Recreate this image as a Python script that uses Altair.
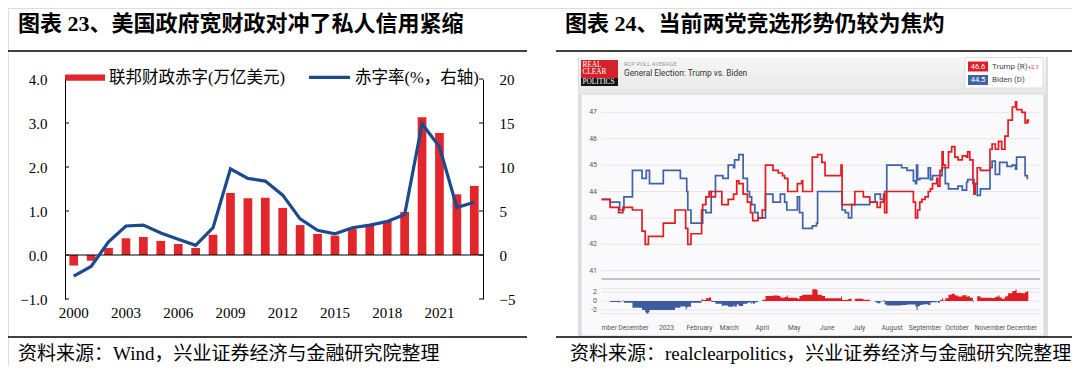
import altair as alt
import pandas as pd

W, H = 1064, 357
OX, OY = 8, 8


def px(x):
    return x - OX


def py(y):
    return y - OY


SERIF = "Liberation Serif"
CJK = "Liberation Serif, Noto Sans CJK SC"
SANS = "Roboto"

RED_BAR = "#E3262B"
BLUE_LINE = "#1A4B8E"
RCP_RED = "#E31B23"
RCP_BLUE = "#3F63A8"

# ---------------- Left panel data ----------------
years = [2000, 2001, 2002, 2003, 2004, 2005, 2006, 2007, 2008, 2009, 2010, 2011,
         2012, 2013, 2014, 2015, 2016, 2017, 2018, 2019, 2020, 2021, 2022, 2023]
deficit = [-0.24, -0.13, 0.16, 0.38, 0.41, 0.32, 0.25, 0.16, 0.46, 1.41, 1.29, 1.30,
           1.07, 0.68, 0.48, 0.44, 0.59, 0.67, 0.78, 0.98, 3.13, 2.77, 1.38, 1.57]
deficit_rate = [-2.4, -1.3, 1.5, 3.3, 3.4, 2.5, 1.8, 1.1, 3.1, 9.8, 8.7, 8.4,
                6.8, 4.1, 2.8, 2.4, 3.1, 3.4, 3.8, 4.6, 14.9, 12.3, 5.4, 6.0]
left_ticks = [-1, 0, 1, 2, 3, 4]
right_ticks = [-5, 0, 5, 10, 15, 20]
year_labels = ["2000", "2003", "2006", "2009", "2012", "2015", "2018", "2021"]

# ---------------- Right panel data ----------------
rcp_dates = [
    "2022-11-01", "2022-11-09", "2022-11-17", "2022-11-18", "2022-11-21", "2022-11-22", "2022-11-30",
    "2022-12-09", "2022-12-12", "2022-12-13", "2022-12-15", "2022-12-16", "2022-12-29",
    "2023-01-09", "2023-01-14", "2023-01-19", "2023-01-20", "2023-01-21", "2023-01-24",
    "2023-02-03", "2023-02-04", "2023-02-07", "2023-02-10", "2023-02-12", "2023-02-16", "2023-02-22", "2023-02-23", "2023-02-28",
    "2023-03-05", "2023-03-06", "2023-03-08", "2023-03-10", "2023-03-14", "2023-03-18", "2023-03-20", "2023-03-21", "2023-03-22", "2023-03-23", "2023-03-25", "2023-03-28",
    "2023-04-01", "2023-04-04", "2023-04-11", "2023-04-16", "2023-04-18", "2023-04-20", "2023-04-22", "2023-04-24", "2023-04-25",
    "2023-05-04", "2023-05-06", "2023-05-08", "2023-05-09", "2023-05-18", "2023-05-22", "2023-05-23", "2023-05-27", "2023-05-30",
    "2023-06-14", "2023-06-15", "2023-06-18", "2023-06-21", "2023-06-24", "2023-06-27",
    "2023-07-05", "2023-07-11", "2023-07-16", "2023-07-18", "2023-07-21", "2023-07-24", "2023-07-25", "2023-07-27",
    "2023-08-10", "2023-08-15", "2023-08-21", "2023-08-23", "2023-08-24", "2023-08-25", "2023-08-27", "2023-08-29",
    "2023-09-01", "2023-09-04", "2023-09-06", "2023-09-08", "2023-09-12", "2023-09-13", "2023-09-15", "2023-09-17", "2023-09-18", "2023-09-20", "2023-09-23", "2023-09-26", "2023-09-29",
    "2023-10-02", "2023-10-06", "2023-10-10", "2023-10-11", "2023-10-13", "2023-10-16", "2023-10-17", "2023-10-18", "2023-10-20", "2023-10-23",
    "2023-11-01", "2023-11-03", "2023-11-06", "2023-11-09", "2023-11-10", "2023-11-12", "2023-11-15", "2023-11-17", "2023-11-18", "2023-11-22", "2023-11-25", "2023-11-26",
    "2023-12-01", "2023-12-04", "2023-12-06", "2023-12-07",
]
trump = [
    43.7, 43.4, 43.2, 43.2, 43.4, 43.4, 43.3,
    42.5, 42.0, 42.0, 42.3, 42.3, 42.8,
    43.3, 43.3, 42.6, 42.6, 42.0, 42.4,
    43.3, 43.5, 43.8, 44.0, 43.8, 44.0, 43.5, 43.5, 43.7,
    43.9, 43.9, 44.4, 44.3, 43.9, 43.6, 43.6, 43.2, 43.2, 42.9, 42.9, 43.0,
    43.3, 45.0, 44.8, 44.7, 44.7, 44.6, 44.5, 44.5, 44.0,
    44.3, 44.3, 44.4, 44.0, 45.3, 45.3, 45.4, 45.1, 44.6,
    45.0, 43.5, 43.5, 43.5, 43.5, 44.0,
    43.8, 43.6, 43.6, 43.4, 43.6, 43.9, 43.2, 44.0,
    44.0, 44.0, 43.6, 43.0, 43.0, 43.3, 43.6, 43.7,
    43.8, 44.0, 44.1, 44.3, 44.5, 44.2, 44.8, 45.5, 45.0, 44.9, 45.5, 45.7, 45.3,
    45.2, 45.35, 45.3, 45.5, 45.2, 44.3, 43.9, 44.3, 44.9, 44.8,
    45.6, 45.8, 45.6, 45.9, 45.9, 45.6, 46.1, 46.1, 46.7, 47.2, 47.4, 47.1,
    47.0, 46.6, 46.7, 46.6,
]
biden = [
    43.7, 43.6, 43.6, 43.3, 43.3, 43.8, 44.8,
    44.5, 44.5, 44.8, 44.8, 44.3, 44.8,
    44.8, 44.5, 44.5, 44.0, 43.3, 42.8,
    42.8, 43.3, 43.2, 43.2, 44.0, 44.6, 44.6, 44.5, 45.0,
    44.9, 45.2, 45.2, 45.4, 44.5, 44.0, 43.8, 43.8, 43.5, 43.5, 43.2, 43.0,
    43.0, 43.9, 43.6, 43.6, 43.9, 43.9, 43.6, 43.3, 43.3,
    43.8, 43.2, 43.2, 42.6, 42.7, 42.8, 44.0, 44.0, 44.0,
    44.0, 43.3, 43.2, 43.0, 43.5, 43.5,
    43.5, 43.6, 43.9, 43.9, 43.7, 43.7, 44.0, 45.0,
    44.9, 44.8, 44.4, 44.3, 45.0, 44.45, 44.5, 44.5,
    44.5, 44.9, 44.45, 44.6, 44.6, 44.6, 44.6, 44.9, 44.9, 44.3, 44.1, 44.1, 44.1,
    44.2, 44.05, 44.35, 44.45, 44.45, 44.45, 43.9, 44.3, 43.85, 44.1,
    44.9, 45.15, 44.65, 44.65, 45.1, 45.1, 45.1, 44.95, 44.95, 45.0, 44.85, 45.3,
    45.3, 44.6, 44.5, 44.5,
]
rcp_grid = [41, 42, 43, 44, 45, 46, 47]
rcp_grid_labels = ["41", "42", "43", "44", "45", "46", "47"]
spread_grid = [2.8, 2, 0, -2, -2.8]
spread_ticks = [2, 0, -2]
spread_tick_labels = ["2", "0", "-2"]
month_ticks = ["2022-12-01", "2023-01-01", "2023-02-01", "2023-03-01", "2023-04-01", "2023-05-01",
               "2023-06-01", "2023-07-01", "2023-08-01", "2023-09-01", "2023-10-01", "2023-11-01",
               "2023-12-01"]
month_labels = ["December", "2023", "February", "March", "April", "May", "June", "July",
                "August", "September", "October", "November", "December"]

ONE = alt.Data(values=[{"k": 0}])


def deco_rect(x1, x2, y1, y2, **kw):
    return alt.Chart(ONE).mark_rect(**kw).encode(
        x=alt.value(px(x1)), x2=alt.value(px(x2)), y=alt.value(py(y1)), y2=alt.value(py(y2)))


def deco_hline(x1, x2, y, color="black", width=1.0):
    return alt.Chart(ONE).mark_rule(color=color, strokeWidth=width).encode(
        x=alt.value(px(x1)), x2=alt.value(px(x2)), y=alt.value(py(y)))


def deco_text(x, y, s, size, color="black", font=CJK, weight="normal", align="left"):
    return alt.Chart(ONE).mark_text(text=s, fontSize=size, color=color, font=font,
                                    fontWeight=weight, align=align, baseline="middle").encode(
        x=alt.value(px(x)), y=alt.value(py(y)))


# ---------------- Left panel ----------------
L_LEFT, L_RIGHT = px(65), px(483)
L_TOP, L_BOT = py(79), py(299)

left_df = pd.DataFrame({"year": [str(y) for y in years], "deficit": deficit, "rate": deficit_rate})
x_left = alt.Scale(domain=[str(y) for y in years], range=[L_LEFT, L_RIGHT],
                   paddingInner=0.5, paddingOuter=0.25)
y_bar = alt.Scale(domain=[-1, 4], range=[L_BOT, L_TOP], nice=False, zero=False)
y_rate = alt.Scale(domain=[-5, 20], range=[L_BOT, L_TOP], nice=False, zero=False)

bars = alt.Chart(left_df).mark_bar(color=RED_BAR).encode(
    x=alt.X("year:N", scale=x_left, axis=None),
    y=alt.Y("deficit:Q", scale=y_bar,
            axis=alt.Axis(orient="left", offset=-L_LEFT, values=left_ticks, format=".1f",
                          ticks=False, tickSize=0, domain=True, domainColor="black",
                          domainWidth=1, labelPadding=18, labelFont=SERIF, labelFontSize=15,
                          labelColor="black", grid=False, title=None, zindex=1)),
    y2=alt.datum(0),
)

year_text = alt.Chart(pd.DataFrame({"year": year_labels})).mark_text(
    font=SERIF, fontSize=15, color="black", baseline="middle", align="center"
).encode(
    x=alt.X("year:N", scale=x_left, axis=None),
    y=alt.value(py(313)),
    text="year:N",
)

zero_rule = alt.Chart(alt.Data(values=[{"v": 0}])).mark_rule(color="black", strokeWidth=1.2).encode(
    y=alt.Y("v:Q", scale=y_bar, axis=None),
    x=alt.value(L_LEFT), x2=alt.value(L_RIGHT),
)
tick_df = pd.DataFrame({"t": left_ticks})
ticks_l = alt.Chart(tick_df).mark_rule(color="black", strokeWidth=1).encode(
    y=alt.Y("t:Q", scale=y_bar, axis=None), x=alt.value(L_LEFT), x2=alt.value(L_LEFT + 4))
ticks_r = alt.Chart(tick_df).mark_rule(color="black", strokeWidth=1).encode(
    y=alt.Y("t:Q", scale=y_bar, axis=None), x=alt.value(L_RIGHT - 4), x2=alt.value(L_RIGHT))

rate_line = alt.Chart(left_df).mark_line(color=BLUE_LINE, strokeWidth=3.2).encode(
    x=alt.X("year:N", scale=x_left, axis=None),
    y=alt.Y("rate:Q", scale=y_rate,
            axis=alt.Axis(orient="right", offset=L_RIGHT - W, values=right_ticks, ticks=False,
                          tickSize=0, domain=True, domainColor="black", domainWidth=1,
                          labelPadding=16, labelFont=SERIF, labelFontSize=15,
                          labelColor="black", grid=False, title=None, zindex=1)),
)

left = alt.layer(bars, zero_rule, ticks_l, ticks_r, rate_line, year_text).resolve_scale(y="independent")

# ---------------- Right panel ----------------
R_LEFT, R_RIGHT = px(601.6), px(1040)
rcp_df = pd.DataFrame({"date": rcp_dates, "trump": trump, "biden": biden})
x_r = alt.Scale(type="utc",
                domain=[alt.DateTime(year=2022, month=11, date=1, utc=True),
                        alt.DateTime(year=2023, month=12, date=18, utc=True)],
                range=[R_LEFT, R_RIGHT])
y_lines = alt.Scale(domain=[41, 47], range=[py(270.7), py(112.3)], nice=False, zero=False)
y_spread = alt.Scale(domain=[-2.8, 2.8], range=[py(313.6), py(288.4)], nice=False, zero=False)

grid_lines = alt.Chart(pd.DataFrame({"g": rcp_grid})).mark_rule(color="#e6e6ea", strokeWidth=1).encode(
    y=alt.Y("g:Q", scale=y_lines, axis=None),
    x=alt.value(R_LEFT), x2=alt.value(R_RIGHT),
)
grid_text = alt.Chart(pd.DataFrame({"g": rcp_grid, "lab": rcp_grid_labels})).mark_text(
    font=SANS, fontSize=7, color="#555555", align="right", baseline="middle"
).encode(
    y=alt.Y("g:Q", scale=y_lines, axis=None),
    x=alt.value(px(597)),
    text="lab:N",
)
trump_line = alt.Chart(rcp_df).mark_line(color=RCP_RED, strokeWidth=1.7, interpolate="step-after").encode(
    x=alt.X("date:T", scale=x_r, axis=None),
    y=alt.Y("trump:Q", scale=y_lines, axis=None),
)
biden_line = alt.Chart(rcp_df).mark_line(color=RCP_BLUE, strokeWidth=1.7, interpolate="step-after").encode(
    x=alt.X("date:T", scale=x_r, axis=None),
    y=alt.Y("biden:Q", scale=y_lines, axis=None),
)
month_text = alt.Chart(pd.DataFrame({"d": month_ticks, "lab": month_labels})).mark_text(
    font=SANS, fontSize=6.7, color="#555555", align="center", baseline="middle"
).encode(
    x=alt.X("d:T", scale=x_r, axis=None),
    y=alt.value(py(328)),
    text="lab:N",
)
right_lines = alt.layer(grid_lines, grid_text, biden_line, trump_line, month_text)

spread_grid_chart = alt.Chart(pd.DataFrame({"g": spread_grid})).mark_rule(color="#e6e6ea", strokeWidth=1).encode(
    y=alt.Y("g:Q", scale=y_spread, axis=None),
    x=alt.value(R_LEFT), x2=alt.value(R_RIGHT),
)
spread_text = alt.Chart(pd.DataFrame({"g": spread_ticks, "lab": spread_tick_labels})).mark_text(
    font=SANS, fontSize=7, color="#555555", align="right", baseline="middle"
).encode(
    y=alt.Y("g:Q", scale=y_spread, axis=None),
    x=alt.value(px(597)),
    text="lab:N",
)
spread_base = alt.Chart(rcp_df).transform_calculate(
    pos="max(datum.trump - datum.biden, 0)",
    neg="min(datum.trump - datum.biden, 0)",
)
pos_area = spread_base.mark_area(color=RCP_RED, interpolate="step-after").encode(
    x=alt.X("date:T", scale=x_r, axis=None),
    y=alt.Y("pos:Q", scale=y_spread, axis=None),
    y2=alt.datum(0),
)
neg_area = spread_base.mark_area(color="#3B5C9E", interpolate="step-after").encode(
    x=alt.X("date:T", scale=x_r, axis=None),
    y=alt.Y("neg:Q", scale=y_spread, axis=None),
    y2=alt.datum(0),
)
right_spread = alt.layer(spread_grid_chart, spread_text, pos_area, neg_area)

right = alt.layer(right_lines, right_spread).resolve_scale(y="independent")

# ---------------- Decorations ----------------
header_grad = alt.Gradient(gradient="linear", x1=0, x2=0, y1=0, y2=1,
                           stops=[alt.GradientStop(color="#f7f7f7", offset=0),
                                  alt.GradientStop(color="#e7e7e7", offset=1)])
backgrounds = [
    deco_rect(578, 1048, 57, 337, color="#dedede"),
    deco_rect(579, 1046, 57, 94, color=header_grad),
    deco_rect(581, 1044, 94, 336, color="#fafafc", stroke="#d8d8d8", strokeWidth=1),
]

decor = [
    # titles
    deco_text(18, 24, "图表 23、美国政府宽财政对冲了私人信用紧缩", 22, weight="bold"),
    deco_text(565, 24, "图表 24、当前两党竞选形势仍较为焦灼", 22, weight="bold"),
    deco_hline(5, 527, 51, width=1.5),
    deco_hline(556, 1076, 51, width=1.5),
    deco_hline(5, 527, 337, width=1.5),
    deco_hline(556, 1076, 337, width=1.5),
    deco_text(18, 354, "资料来源：Wind，兴业证券经济与金融研究院整理", 19),
    deco_text(570, 354, "资料来源：realclearpolitics，兴业证券经济与金融研究院整理", 19),
    # left legend
    deco_rect(65, 105, 74.6, 80.8, color=RED_BAR),
    deco_text(109, 77.5, "联邦财政赤字(万亿美元)", 16.5),
    deco_hline(309, 350, 77.3, color=BLUE_LINE, width=3.2),
    deco_text(355, 77.5, "赤字率(%，右轴)", 16.5),
    # right panel separator and clipped month label
    deco_hline(601.6, 1040, 279, color="#b0b0b0", width=1.5),
    deco_text(601.5, 328, "mber", 6.7, color="#555555", font=SANS),
    # RCP logo
    deco_rect(581, 618, 60, 78, color="#D2232A"),
    deco_rect(581, 618, 78, 86, color="#111111"),
    deco_text(582.5, 65, "REAL", 7.3, color="white", font=SERIF),
    deco_text(582.5, 72, "CLEAR", 7.3, color="white", font=SERIF),
    deco_text(582.5, 82, "POLITICS", 7.3, color="white", font=SERIF),
    deco_text(624, 63.5, "RCP POLL AVERAGE", 5.8, color="#999999", font=SANS),
    deco_text(624, 74, "General Election: Trump vs. Biden", 8.3, color="#333333", font=SANS),
    # RCP legend
    deco_rect(965, 1043, 57.5, 88, color="white", stroke="#dddddd", strokeWidth=1),
    deco_rect(968, 988, 61.5, 71.5, color=RCP_RED),
    deco_text(978, 66.7, "46.6", 7.5, color="white", font=SANS, align="center"),
    deco_text(992, 66.7, "Trump (R)", 8, color="#444444", font=SANS),
    deco_text(1028, 66.7, "+2.1", 5.5, color=RCP_RED, font=SANS),
    deco_rect(968, 988, 75, 85, color=RCP_BLUE),
    deco_text(978, 80.2, "44.5", 7.5, color="white", font=SANS, align="center"),
    deco_text(992, 80.2, "Biden (D)", 8, color="#444444", font=SANS),
]

chart = alt.layer(*backgrounds, left, right, *decor).resolve_scale(
    x="independent", y="independent"
).properties(
    width=W, height=H, autosize=alt.AutoSizeParams(type="none"), padding=0
).configure_view(stroke=None).configure(background="white")

chart.save("out.html", embed_options={"renderer": "svg", "actions": False})
